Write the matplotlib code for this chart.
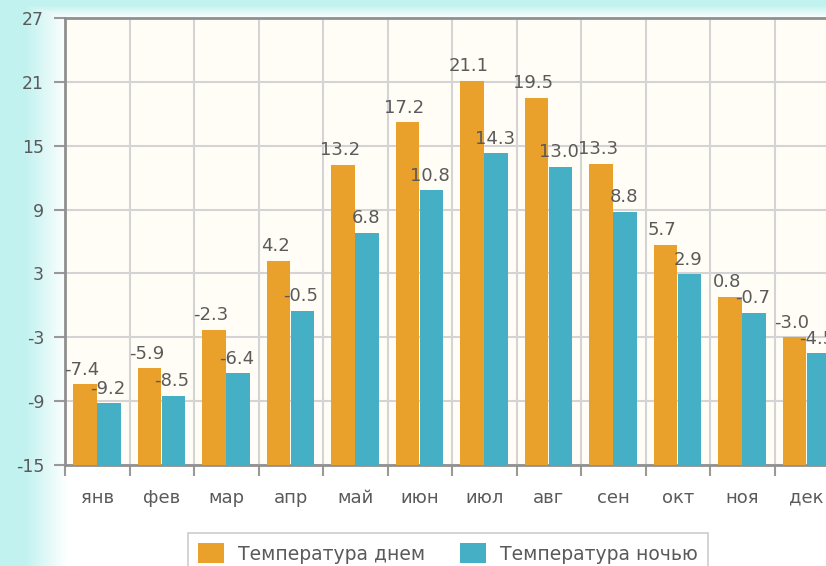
import numpy as np
import matplotlib
matplotlib.use("Agg")
import matplotlib.pyplot as plt

months = ["янв", "фев", "мар", "апр", "май", "июн", "июл", "авг", "сен", "окт", "ноя", "дек"]
day_temp = [-7.4, -5.9, -2.3, 4.2, 13.2, 17.2, 21.1, 19.5, 13.3, 5.7, 0.8, -3.0]
night_temp = [-9.2, -8.5, -6.4, -0.5, 6.8, 10.8, 14.3, 13.0, 8.8, 2.9, -0.7, -4.5]
y_ticks = [-15, -9, -3, 3, 9, 15, 21, 27]
series_names = ["Температура днем", "Температура ночью"]

ORANGE = "#E9A12C"
TEAL = "#45AFC6"
TXT = "#5a5a5a"

W, H = 826, 566
fig = plt.figure(figsize=(W / 100, H / 100), dpi=100)
fig.patch.set_facecolor("white")

# background gradient (cyan at left and top edges)
bg = fig.add_axes([0, 0, 1, 1], zorder=-10)
xs = np.arange(W)
ys = np.arange(H)
fx = np.clip(1 - (xs - 25) / 42.0, 0, 1)
fy = np.clip(1 - (ys - 5) / 13.0, 0, 1)
inten = np.maximum(fx[None, :], fy[:, None])
cyan = np.array([0.76, 0.95, 0.94])
img = np.ones((H, W, 3)) * (1 - inten[..., None]) + cyan * inten[..., None]
bg.imshow(img, aspect="auto", extent=[0, 1, 0, 1], origin="upper")
bg.axis("off")

left = 65 / W
bottom = 1 - 465 / H
width = (12 * 64.5) / W
height = (465 - 18) / H
ax = fig.add_axes([left, bottom, width, height])
ax.set_facecolor("#FFFDF5")

x = np.arange(len(months))
bw = 0.365
base = -15
ax.bar(x - 0.19, np.array(day_temp) - base, bw, bottom=base, color=ORANGE, zorder=3,
       label=series_names[0])
ax.bar(x + 0.18, np.array(night_temp) - base, bw, bottom=base, color=TEAL, zorder=3,
       label=series_names[1])

for i, (d, n) in enumerate(zip(day_temp, night_temp)):
    ax.annotate(f"{d:.1f}", (i - 0.24, d), xytext=(0, 4), textcoords="offset points",
                ha="center", va="bottom", fontsize=13, color=TXT, zorder=5)
    ax.annotate(f"{n:.1f}", (i + 0.16, n), xytext=(0, 4), textcoords="offset points",
                ha="center", va="bottom", fontsize=13, color=TXT, zorder=5)

ax.set_xlim(-0.5, 11.5)
ax.set_ylim(-15, 27)
ax.set_yticks(y_ticks)
ax.set_yticklabels([str(v) for v in y_ticks])
ax.set_xticks(np.arange(-0.5, 12, 1.0))
ax.set_xticklabels([])
ax.set_xticks(x, minor=True)
ax.set_xticklabels(months, minor=True)
ax.tick_params(axis="x", which="minor", length=0, pad=17, labelsize=13, labelcolor=TXT)
ax.tick_params(axis="x", which="major", length=8, width=1.5, color="#999999")
ax.tick_params(axis="y", length=8, width=1.5, color="#999999", labelsize=12.5,
               labelcolor=TXT, pad=7)

ax.grid(True, which="major", color="#d4d4d4", linewidth=1.5, zorder=0)
ax.set_axisbelow(True)
for s in ["left", "bottom", "top"]:
    ax.spines[s].set_color("#909090")
    ax.spines[s].set_linewidth(2)
ax.spines["right"].set_visible(False)

leg = fig.legend(loc="upper left", bbox_to_anchor=(188 / W, 1 - 533 / H), ncol=2,
                 fontsize=13.5, frameon=True, fancybox=False, handlelength=1.35,
                 handleheight=1.25, borderaxespad=0, columnspacing=1.9,
                 handletextpad=0.75, borderpad=0.55)
leg.get_frame().set_edgecolor("#c0c0c0")
leg.get_frame().set_linewidth(1.2)
for t in leg.get_texts():
    t.set_color(TXT)

fig.savefig("out.png", dpi=100)
